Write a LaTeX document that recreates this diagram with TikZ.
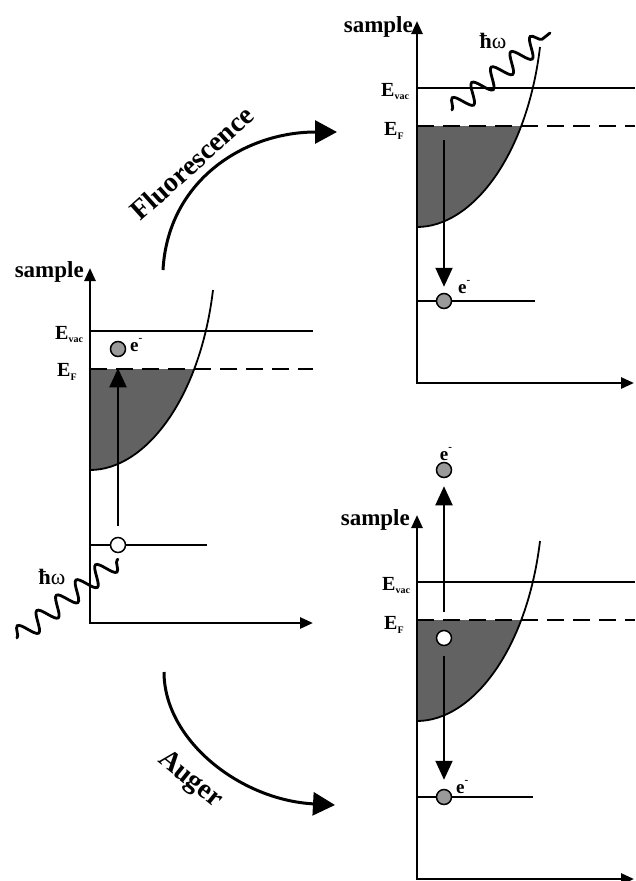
\documentclass[tikz,border=0pt]{standalone}
\usepackage{fontspec}
\setmainfont{Liberation Serif}
\usetikzlibrary{arrows.meta,decorations.pathmorphing,calc}
\definecolor{bandgray}{HTML}{626262}
\definecolor{dotgray}{HTML}{9A9A9A}
\newcommand{\myband}[2]{%
  \begin{scope}
    \clip (#1,#2) rectangle (#1+200,#2+150);
    \fill[bandgray] (#1,#2+101) .. controls (#1+55,#2+101) and (#1+110,#2+30) .. (#1+123,#2-79) -- (#1,#2-79) -- cycle;
  \end{scope}
  \draw[curveline] (#1,#2+101) .. controls (#1+55,#2+101) and (#1+110,#2+30) .. (#1+123,#2-79);
}
\newcommand{\esup}{\raisebox{0.5em}{\fontsize{11}{11}\selectfont -}}
\newcommand{\Evac}{E\raisebox{-3pt}{\fontsize{10}{10}\selectfont vac}}
\newcommand{\EF}{E\raisebox{-4pt}{\fontsize{10}{10}\selectfont F}}
\begin{document}
\begin{tikzpicture}[x=1pt,y=-1pt,
  axis/.style={line width=2.6pt, {Triangle[length=13pt,width=11pt]}-{Triangle[length=13pt,width=11pt]}},
  level/.style={line width=1.6pt},
  fermi/.style={line width=2.4pt, dash pattern=on 17pt off 9pt},
  curveline/.style={line width=1.8pt},
  dot/.style={circle, draw, line width=1.5pt, fill=dotgray, minimum size=15pt, inner sep=0pt},
  hole/.style={dot, fill=white},
  vert/.style={line width=2pt, -{Triangle[length=19pt,width=17pt]}},
  bigarrow/.style={line width=3pt, -{Triangle[length=22pt,width=23pt]}},
  photon/.style={line width=2.8pt, line cap=round, decorate, decoration={snake, segment length=24.8pt, amplitude=9.5pt}},
  samplab/.style={font=\bfseries\fontsize{23}{23}\selectfont, inner sep=0pt},
  elab/.style={font=\bfseries\fontsize{20}{20}\selectfont, inner sep=0pt},
  elec/.style={font=\bfseries\fontsize{19}{19}\selectfont, inner sep=0pt},
  hwlab/.style={font=\fontsize{22}{22}\selectfont, inner sep=0pt},
  proc/.style={font=\bfseries\fontsize{28}{28}\selectfont, inner sep=0pt}
]
\useasboundingbox (0,0) rectangle (635,881);

% ---------------- left diagram ----------------
\myband{90}{369}
\draw[level] (90,331) -- (313,331);
\draw[fermi] (90,369) -- (313,369);
\draw[level] (90,545) -- (207,545);
\draw[axis] (90,268) -- (90,623) -- (313,623);
\node[samplab, anchor=base east] (s1) at (84,277) {sample};
\node[elab, anchor=base west] (ev1) at (55,339) {\Evac};
\node[elab, anchor=base west] (ef1) at (57,376) {\EF};
\node[dot] (e1) at (118,349) {};
\node[hole] (h1) at (118,545) {};
\node[elec, anchor=base west] (el1) at (130,351) {e\esup};
\draw[vert] ($(h1.north)+(0,-11)$) -- ($(e1.south)+(0,11)$);
\coordinate (w1) at (17,638);
\draw[photon] (w1) -- ($(h1.south)+(0,6)$);
\node[hwlab] (hw1) at (52,577) {\textbf{ħ}ω};

% ---------------- top-right diagram ----------------
\myband{417}{126}
\draw[level] (417,88) -- (635,88);
\draw[fermi] (417,126) -- (635,126);
\draw[level] (417,301) -- (535,301);
\draw[axis] (417,21) -- (417,383) -- (634,383);
\node[samplab, anchor=base east] (s2) at (413,32) {sample};
\node[elab, anchor=base west] (ev2) at (381,96) {\Evac};
\node[elab, anchor=base west] (ef2) at (384,135) {\EF};
\node[dot] (e2) at (444,301) {};
\node[elec, anchor=base west] (el2) at (458,293) {e\esup};
\coordinate (a2) at (444,140);
\draw[vert] (a2) -- ($(e2.north)+(0,-6)$);
\coordinate (w2a) at (452,110);
\coordinate (w2b) at (550,33);
\draw[photon] (w2a) -- (w2b);
\node[hwlab] (hw2) at (493,41) {\textbf{ħ}ω};

% ---------------- bottom-right diagram ----------------
\myband{417}{620}
\draw[level] (417,582) -- (635,582);
\draw[fermi] (417,620) -- (635,620);
\draw[level] (417,797) -- (533,797);
\draw[axis] (417,515) -- (417,879) -- (634,879);
\node[samplab, anchor=base east] (s3) at (410,525) {sample};
\node[elab, anchor=base west] (ev3) at (382,590) {\Evac};
\node[elab, anchor=base west] (ef3) at (384,629) {\EF};
\node[hole] (h3) at (444,638) {};
\node[dot] (e3t) at (444,470) {};
\node[dot] (e3b) at (444,797) {};
\node[elec, anchor=base] (el3t) at (446,460) {e\esup};
\node[elec, anchor=base west] (el3b) at (456,793) {e\esup};
\draw[vert] ($(h3.north)+(0,-18)$) -- ($(e3t.south)+(0,8)$);
\draw[vert] ($(h3.south)+(0,10)$) -- ($(e3b.north)+(0,-9)$);

% ---------------- process arrows ----------------
\coordinate (f0) at (163,270);
\coordinate (f1) at (337,132);
\draw[bigarrow] (f0) .. controls (168,180) and (245,132) .. (f1);
\node[proc, rotate=42] (fl) at (192,163) {Fluorescence};
\coordinate (g0) at (164,672);
\coordinate (g1) at (335,805);
\draw[bigarrow] (g0) .. controls (164,740) and (240,800) .. (g1);
\node[proc, rotate=-39] (au) at (190,780) {Auger};
\end{tikzpicture}
\end{document}
